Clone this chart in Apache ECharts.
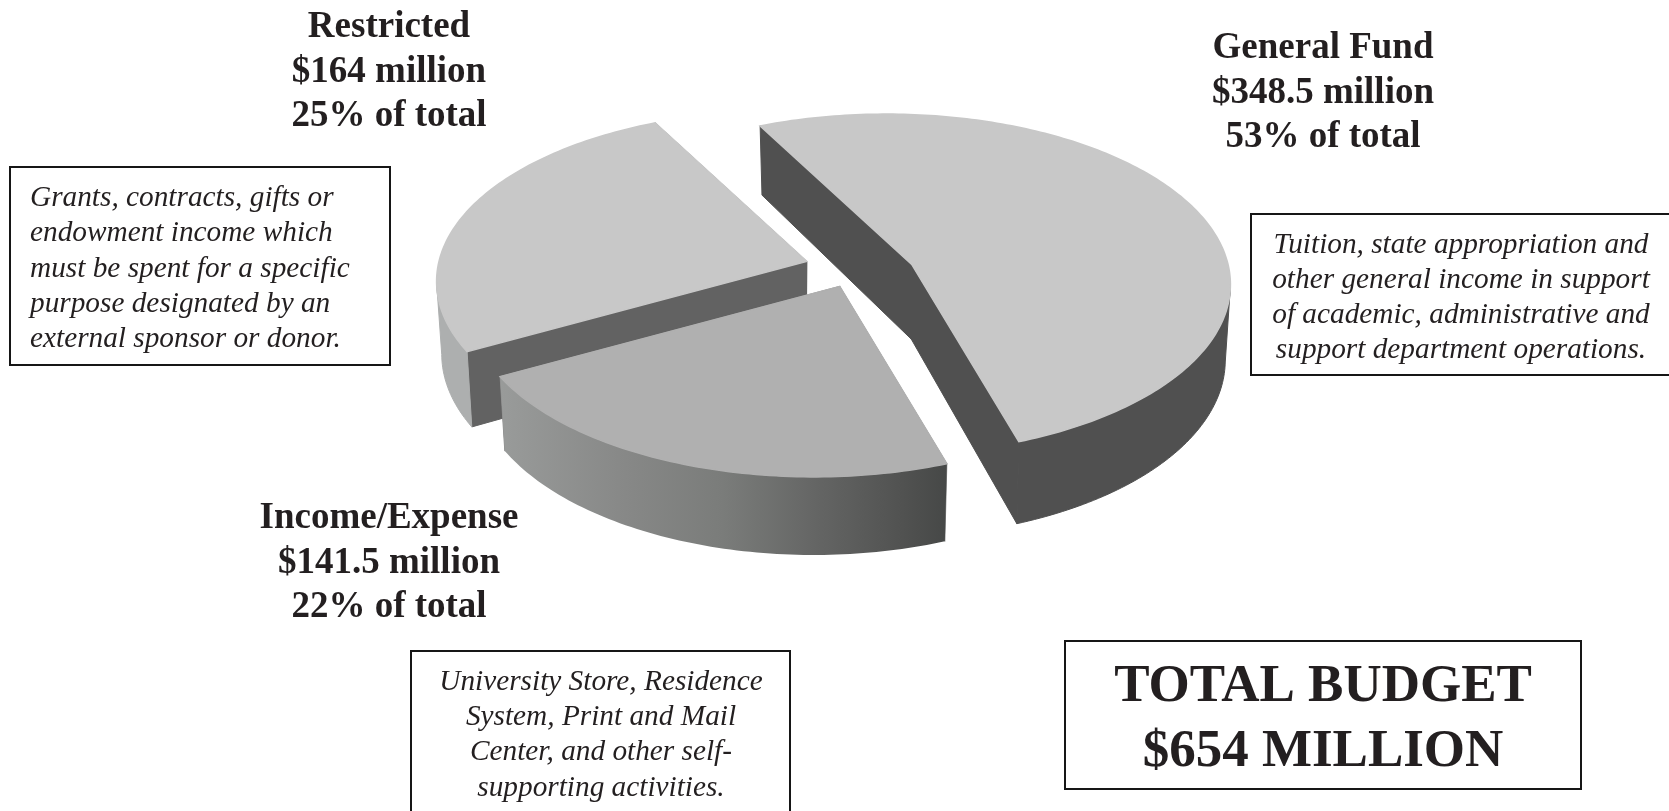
<!DOCTYPE html>
<html>
<head>
<meta charset="utf-8">
<title>University budget by fund</title>
<script src="https://cdn.jsdelivr.net/npm/echarts@6/dist/echarts.min.js"></script>
<style>
  html, body { margin: 0; padding: 0; background: #fff; }
  #chart { width: 1669px; height: 811px; }
</style>
</head>
<body>
<div id="chart"></div>
<script>
// Budget figures, in millions of dollars
const funds = ['Restricted', 'Income/Expense', 'General Fund'];
const budget = [164, 141.5, 348.5];
const shareLabels = ['25% of total', '22% of total', '53% of total'];
const amountLabels = ['$164 million', '$141.5 million', '$348.5 million'];
const totalLines = ['TOTAL BUDGET', '$654 MILLION'];

const restrictedNote = [
  'Grants, contracts, gifts or',
  'endowment income which',
  'must be spent for a specific',
  'purpose designated by an',
  'external sponsor or donor.'
];
const generalNote = [
  'Tuition, state appropriation and',
  'other general income in support',
  'of academic, administrative and',
  'support department operations.'
];
const incomeNote = [
  'University Store, Residence',
  'System, Print and Mail',
  'Center, and other self-',
  'supporting activities.'
];

// Camera for the tilted disc
const view = {
  startAngle: 242,     // clockwise from screen right, where Restricted begins
  rx: 343, ry: 169,    // disc half-axes on screen
  persp: 0.0909,       // foreshortening towards the back of the disc
  skewDir: 340, skew: 0.08, // sideways lean of the viewpoint
  taper: 0.985         // lower rim narrows slightly
};
// Each wedge is pulled away from the others
const wedgeAnchors = [[781, 266], [814, 291], [886, 269]];
const wedgeDepths = [72, 71, 75];
const wedgeColors = [
  { top: '#c8c8c8', rim: '#adafaf', cut: '#626262' },
  { top: '#b0b0b0', rim: null, cut: '#8c8c8c' },
  { top: '#c8c8c8', rim: '#505050', cut: '#505050' }
];
const incomeRimStops = [
  { offset: 0, color: '#999b9a' },
  { offset: 0.28, color: '#878887' },
  { offset: 0.5, color: '#7a7c7a' },
  { offset: 0.72, color: '#636463' },
  { offset: 0.9, color: '#515251' },
  { offset: 1, color: '#464847' }
];

const total = budget.reduce((a, b) => a + b, 0);
const rad = Math.PI / 180;

// Maps a point of the unit disc to an offset on screen, plus its perspective divisor
function projectDisc(x, y) {
  const cp = Math.cos(view.skewDir * rad), sp = Math.sin(view.skewDir * rad);
  const a = x * cp + y * sp, b = -x * sp + y * cp;
  const d = 1 + view.skew * a;
  const a2 = (a + view.skew) / d;
  const b2 = b * Math.sqrt(1 - view.skew * view.skew) / d;
  const u = a2 * cp - b2 * sp, v = a2 * sp + b2 * cp;
  const w = 1 - view.persp * v;
  return { dx: view.rx * u / w, dy: view.ry * v / w, w };
}
function topPoint(anchor, x, y) {
  const p = projectDisc(x, y);
  return [anchor[0] + p.dx, anchor[1] + p.dy];
}
function bottomPoint(anchor, depth, x, y) {
  const p = projectDisc(x, y);
  return [anchor[0] + p.dx * view.taper, anchor[1] + p.dy + depth / p.w];
}

function renderWedge(params, api) {
  const i = params.dataIndex;
  const anchor = wedgeAnchors[i];
  const depth = wedgeDepths[i];
  const colors = wedgeColors[i];
  let before = 0;
  for (let k = 0; k < i; k++) before += budget[k];
  // Wedges run anticlockwise from the starting angle
  const from = view.startAngle - before / total * 360;
  const to = from - api.value(0) / total * 360;
  const steps = Math.ceil(Math.abs(to - from));
  const rimTop = [], rimBottom = [];
  for (let s = 0; s <= steps; s++) {
    const t = (from + (to - from) * s / steps) * rad;
    rimTop.push(topPoint(anchor, Math.cos(t), Math.sin(t)));
    rimBottom.push(bottomPoint(anchor, depth, Math.cos(t), Math.sin(t)));
  }
  const coreTop = topPoint(anchor, 0, 0);
  const coreBottom = bottomPoint(anchor, depth, 0, 0);
  const last = rimTop.length - 1;

  // The rim is clipped to its front-facing stretch so that a gradient spans only what shows
  const front = [];
  for (let s = 0; s <= last; s++) {
    const t = (from + (to - from) * s / steps) * rad;
    if (projectDisc(Math.cos(t), Math.sin(t)).dy > 15) front.push(s);
  }
  const rimPoints = front.map(s => rimTop[s]).concat(front.map(s => rimBottom[s]).reverse());
  const rimFill = colors.rim || new echarts.graphic.LinearGradient(0, 0, 1, 0, incomeRimStops);

  // A hairline of the same shade closes the seams between adjoining faces
  const wall = (a, b, c, d, fill) => ({
    type: 'polygon', shape: { points: [a, b, c, d] },
    style: { fill, stroke: fill, lineWidth: 1 }, silent: true
  });
  const rimStyle = colors.rim
    ? { fill: rimFill, stroke: rimFill, lineWidth: 1 }
    : { fill: rimFill };
  return {
    type: 'group',
    children: [
      wall(rimTop[0], coreTop, coreBottom, rimBottom[0], colors.cut),
      wall(rimTop[last], coreTop, coreBottom, rimBottom[last], colors.cut),
      { type: 'polygon', shape: { points: rimPoints }, style: rimStyle, silent: true },
      {
        type: 'polygon', shape: { points: [coreTop].concat(rimTop) },
        style: { fill: colors.top, stroke: colors.top, lineWidth: 1.5 }, silent: true
      }
    ]
  };
}

const ink = '#231f20';
const headFont = 'bold 37px "Liberation Serif"';
const noteFont = 'italic 29.3px "Liberation Serif"';
const totalFont = 'bold 53px "Liberation Serif"';

function textBlock(lines, x, ys, font, align) {
  return lines.map((line, k) => ({
    type: 'text', silent: true,
    style: { text: line, x, y: ys[k], font, fill: ink, align: align || 'center', verticalAlign: 'middle' }
  }));
}
function box(x, y, width, height) {
  return {
    type: 'rect', silent: true, shape: { x, y, width, height },
    style: { fill: '#ffffff', stroke: '#161616', lineWidth: 2 }
  };
}
function fundLines(i) {
  return [funds[i], amountLabels[i], shareLabels[i]];
}

const overlay = [
  box(10, 167, 380, 198),
  box(1251, 214, 440, 161),
  box(411, 651, 379, 180),
  box(1065, 641, 516, 148)
].concat(
  textBlock(fundLines(0), 389, [27, 72, 116], headFont),
  textBlock(fundLines(2), 1323, [48, 93, 137], headFont),
  textBlock(fundLines(1), 389, [518, 563, 607], headFont),
  textBlock(restrictedNote, 30, [198, 233, 269, 304, 339], noteFont, 'left'),
  textBlock(generalNote, 1461, [245, 280, 315, 350], noteFont),
  textBlock(incomeNote, 601, [682, 717, 752, 788], noteFont),
  textBlock(totalLines, 1323, [687, 752], totalFont)
);

const chart = echarts.init(document.getElementById('chart'), null, { renderer: 'canvas' });
chart.setOption({
  animation: false,
  backgroundColor: '#ffffff',
  series: [{
    type: 'custom',
    coordinateSystem: 'none',
    silent: true,
    data: budget.map((v, i) => ({ name: funds[i], value: [v] })),
    renderItem: renderWedge
  }],
  graphic: { elements: overlay }
});
</script>
</body>
</html>
